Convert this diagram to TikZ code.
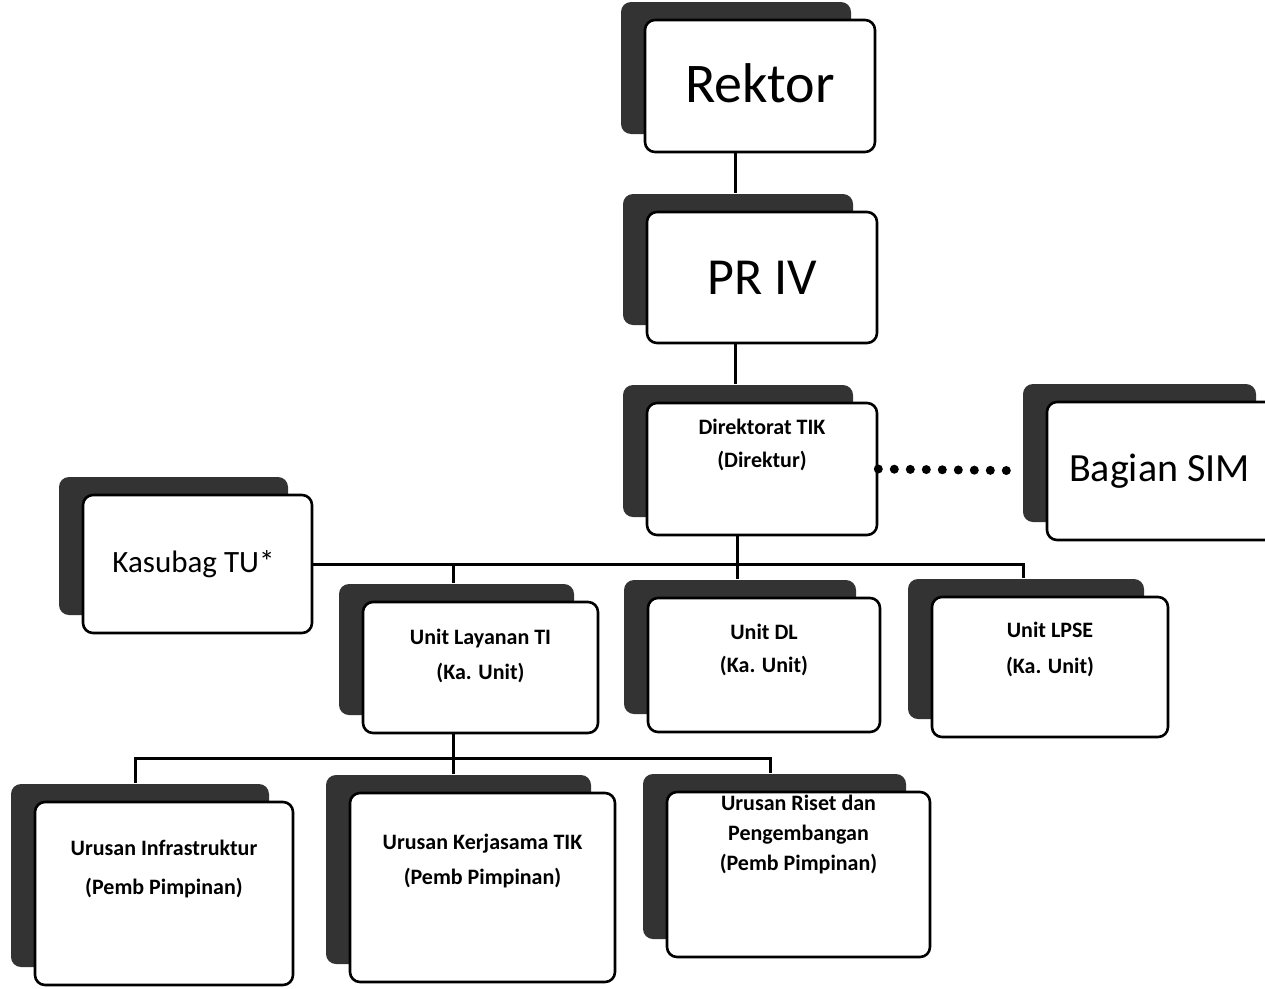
\documentclass[tikz,border=0pt]{standalone}
\usepackage{fontspec}
\setmainfont{Carlito}
\usetikzlibrary{shadows}
\newcommand{\toptext}[5]{\parbox[c][#1][t]{#2}{\vspace*{#3}\centering\fontsize{22}{#4}\selectfont\bfseries #5}}
\tikzset{
  orgbox/.style={draw=black, line width=2.6pt, rounded corners=10pt, fill=white,
    inner sep=0pt, align=center,
    general shadow={fill=black!80, shadow xshift=-24pt, shadow yshift=18pt}},
  conn/.style={draw=black, line width=3pt},
  dotline/.style={draw=black, line width=9pt, line cap=round, dash pattern=on 0pt off 16pt},
  hugetext/.style={font=\fontsize{56}{64}\selectfont},
  bigtext/.style={font=\fontsize{52}{60}\selectfont},
  largetext/.style={font=\fontsize{40}{48}\selectfont},
  midtext/.style={font=\fontsize{31}{38}\selectfont},
}
\begin{document}
\begin{tikzpicture}[x=1pt,y=-1pt]
\useasboundingbox (0,0) rectangle (1265,988);
% boxes
\node[orgbox, hugetext, minimum width=230pt, minimum height=132pt] (rektor) at (760,86) {\raisebox{5pt}{Rektor}};
\node[orgbox, bigtext, minimum width=230pt, minimum height=131pt] (pr4) at (762,277.5) {PR IV};
\node[orgbox, minimum width=230pt, minimum height=132pt] (dir) at (762,469)
  {\toptext{132pt}{220pt}{15.6pt}{33pt}{Direktorat TIK\\(Direktur)}};
\node[orgbox, largetext, minimum width=233pt, minimum height=138pt] (sim) at (1163.5,471) {\hspace*{-8pt}\raisebox{4pt}{Bagian SIM}};
\node[orgbox, midtext, minimum width=229pt, minimum height=138pt] (kas) at (197.5,564) {\hspace*{-8pt}Kasubag TU*};
\node[orgbox, minimum width=235pt, minimum height=131pt] (lay) at (480.5,667.5)
  {\toptext{131pt}{225pt}{26.6pt}{35pt}{Unit Layanan TI\\(Ka. Unit)}};
\node[orgbox, minimum width=232pt, minimum height=134pt] (dl) at (764,665)
  {\toptext{134pt}{222pt}{25.6pt}{33pt}{Unit DL\\(Ka. Unit)}};
\node[orgbox, minimum width=236pt, minimum height=140pt] (lpse) at (1050,667)
  {\toptext{140pt}{226pt}{24.6pt}{36pt}{Unit LPSE\\(Ka. Unit)}};
\node[orgbox, minimum width=258pt, minimum height=183pt] (infra) at (164,893.5)
  {\toptext{183pt}{248pt}{37.6pt}{39pt}{Urusan Infrastruktur\\(Pemb Pimpinan)}};
\node[orgbox, minimum width=265pt, minimum height=189pt] (kerja) at (482.5,887.5)
  {\toptext{189pt}{255pt}{40.6pt}{35pt}{Urusan Kerjasama TIK\\(Pemb Pimpinan)}};
\node[orgbox, minimum width=263pt, minimum height=165pt] (riset) at (798.5,874.5)
  {\toptext{165pt}{253pt}{2.6pt}{30pt}{Urusan Riset dan\\Pengembangan\\(Pemb Pimpinan)}};
% connector anchors
\coordinate (rekS) at ([xshift=-25pt]rektor.south);
\coordinate (prT) at ([xshift=-27pt]pr4.north);
\coordinate (prS) at ([xshift=-27pt]pr4.south);
\coordinate (dirT) at ([xshift=-27pt]dir.north);
\coordinate (dirS) at ([xshift=-25pt]dir.south);
\coordinate (dlT) at ([xshift=-27pt]dl.north);
\coordinate (layT) at ([xshift=-27pt]lay.north);
\coordinate (lpseT) at ([xshift=-27pt]lpse.north);
\coordinate (layS) at ([xshift=-27pt]lay.south);
\coordinate (bus2) at ([yshift=-24pt]layS);
\coordinate (infT) at ([xshift=-29pt]infra.north);
\coordinate (kerT) at ([xshift=-29pt]kerja.north);
\coordinate (risT) at ([xshift=-28pt]riset.north);
% connectors
\draw[conn, shorten >=18pt] (rekS) -- (rekS |- prT);
\draw[conn, shorten >=18pt] (prS) -- (prS |- dirT);
\draw[dotline, shorten >=32pt] (dir.east) -- (sim.west);
\draw[conn, shorten >=18pt] (dirS) -- (dirS |- dlT);
\draw[conn, shorten >=18pt] (kas.east) -- (kas.east -| lpseT) -- (lpseT);
\draw[conn, shorten >=18pt] (layT |- kas.east) -- (layT);
\draw[conn, shorten >=18pt] (layS) -- (kerT);
\draw[conn, shorten <=18pt, shorten >=18pt] (infT) -- (infT |- bus2) -- (risT |- bus2) -- (risT);
\end{tikzpicture}
\end{document}
